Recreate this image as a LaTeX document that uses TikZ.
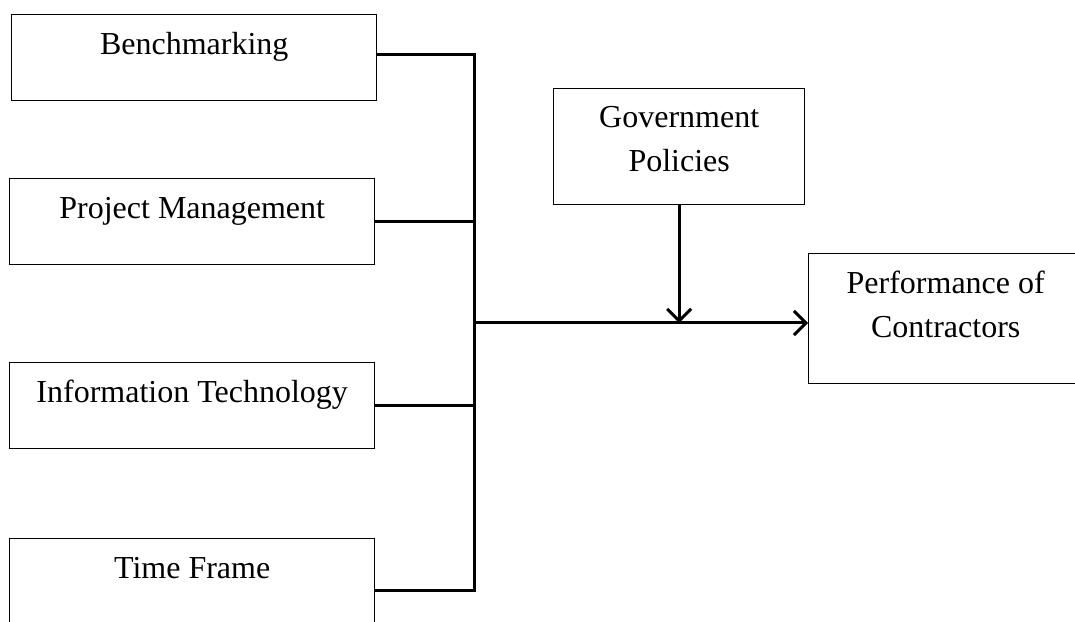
\documentclass[tikz,border=0pt]{standalone}
\usepackage{fontspec}
\setmainfont{Liberation Serif}
\usetikzlibrary{arrows.meta}

\begin{document}
\begin{tikzpicture}[x=0.5pt,y=0.5pt,
    box/.style={draw, line width=0.7pt, inner sep=0pt, anchor=north west, align=center,
      font=\fontsize{16}{22}\selectfont},
    factor/.style={box, minimum width=182.5pt, text height=20pt, text depth=23pt},
    link/.style={line width=1.5pt},
    >={Straight Barb[length=6pt,width=12pt]}]
  \clip (0,0) rectangle (1075,621);
  % independent variables
  \node[factor] (bench) at (11,607) {Benchmarking};
  \node[factor] (pm) at (9,443) {Project Management};
  \node[factor] (it) at (9,259) {Information Technology};
  \node[factor] (tf) at (9,83) {Time Frame};
  % moderator and dependent variable
  \node[box, minimum width=125.5pt, text height=41.5pt, text depth=16.5pt] (gov) at (553,533) {Government\\Policies};
  \node[box, minimum width=137pt, text height=42pt, text depth=23pt] (perf) at (808,368) {Performance of\\Contractors};
  \coordinate (jt) at (474,298);
  \coordinate (bend) at ([yshift=1.5pt]bench.east);
  \coordinate (tfend) at ([yshift=-4.5pt]tf.east);
  \draw[link] (bend) -| (tfend -| jt) -- (tfend);
  \draw[link] (pm.east) -- (pm.east -| jt);
  \draw[link] (it.east) -- (it.east -| jt);
  \draw[link,->] (jt) -- (jt -| perf.west);
  \draw[link,->] (gov.south) -- (gov.south |- jt);
\end{tikzpicture}
\end{document}
